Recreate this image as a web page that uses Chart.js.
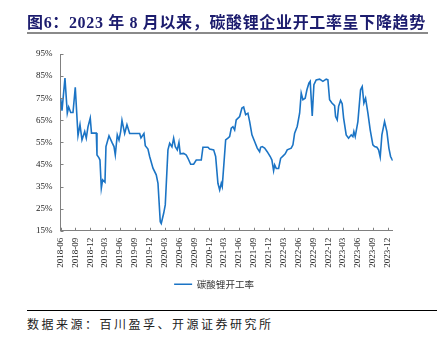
<!DOCTYPE html>
<html>
<head>
<meta charset="utf-8">
<script src="https://cdn.jsdelivr.net/npm/chart.js@4/dist/chart.umd.min.js"></script>
<style>
  html, body { margin: 0; padding: 0; background: #fff; }
  #wrap { position: relative; width: 446px; height: 340px; overflow: hidden; }
  #title { position: absolute; left: 27px; top: 9px; white-space: nowrap; letter-spacing: 0.65px;
    font: bold 16px "Liberation Serif", "Noto Sans CJK SC", serif; color: #1c1c6e; }
  #titleRule { position: absolute; left: 27px; top: 32px; width: 401px; height: 2px; background: #8a8a8a; }
  #srcRule { position: absolute; left: 27px; top: 310px; width: 410px; height: 1px; background: #000; }
  #source { position: absolute; left: 27px; top: 315px; white-space: nowrap; letter-spacing: 2.5px;
    font: 12px "Noto Sans CJK SC", sans-serif; color: #222; }
  #chartBox { position: absolute; left: 0; top: 0; width: 446px; height: 300px; }
</style>
</head>
<body>
<div id="wrap">
  <div id="chartBox"><canvas id="chartRate"></canvas></div>
  <div id="title">图6：2023 年 8 月以来，碳酸锂企业开工率呈下降趋势</div>
  <div id="titleRule"></div>
  <div id="srcRule"></div>
  <div id="source">数据来源：百川盈孚、开源证券研究所</div>
</div>
<script>
// x = months since 2018-06, y = operating rate (%)
var seriesName = "碳酸锂开工率";
var tickLabels = ["2018-06", "2018-09", "2018-12", "2019-03", "2019-06", "2019-09", "2019-12",
  "2020-03", "2020-06", "2020-09", "2020-12", "2021-03", "2021-06", "2021-09", "2021-12",
  "2022-03", "2022-06", "2022-09", "2022-12", "2023-03", "2023-06", "2023-09", "2023-12"];
var monthPos = [0.04, 0.3, 0.9, 1.37, 1.65, 2.06, 2.52, 2.98, 3.53, 3.93, 4.33, 4.88, 5.2, 5.54, 6.0,
  6.25, 7.22, 7.36, 7.76, 7.96, 8.23, 8.5, 8.97, 9.17, 9.78, 10.38, 10.79, 11.05, 11.45, 11.8,
  12.14, 12.4, 12.94, 13.4, 13.95, 15.97, 16.23, 16.83, 17.1, 17.64, 17.98, 18.65, 19.31, 19.66,
  20.12, 20.32, 20.81, 21.13, 21.67, 22.02, 22.48, 22.82, 23.15, 23.55, 23.89, 24.15, 24.84,
  25.36, 25.71, 26.25, 26.85, 27.38, 28.39, 28.73, 29.74, 30.08, 30.89, 31.29, 31.75, 32.1,
  32.42, 32.62, 33.31, 33.77, 34.11, 34.44, 34.78, 35.12, 35.44, 36.13, 36.59, 36.94, 37.34,
  37.8, 38.15, 38.61, 39.15, 39.68, 40.16, 40.36, 40.69, 41.17, 41.69, 42.3, 42.64, 42.98,
  43.19, 43.51, 43.99, 44.4, 44.86, 45.32, 45.73, 46.53, 46.88, 47.22, 47.74, 48.23, 48.55,
  48.89, 49.35, 49.7, 50.1, 50.36, 50.77, 51.11, 51.57, 52.26, 52.92, 53.59, 53.93, 54.27,
  54.74, 55.28, 55.48, 55.81, 56.09, 56.49, 56.81, 57.1, 57.62, 58.1, 58.63, 58.97, 59.17,
  59.44, 59.98, 60.52, 60.85, 61.19, 61.53, 62.0, 62.46, 63.0, 63.35, 63.81, 64.15, 64.48,
  64.82, 65.36, 65.83, 66.23, 66.57, 67.0];
var rateValues = [75, 69.3, 84.1, 68.2, 71, 68.5, 68.5, 79.9, 58.1, 63, 56.1, 59.9, 56.9, 62, 66,
  59.2, 59.2, 49.3, 48, 47, 34.2, 38, 37, 53.1, 58, 55, 53.1, 49.3, 58.4, 56,
  60, 65, 59, 63, 59, 59, 57, 59, 53.5, 52, 48.6, 43.3, 40.3, 36.5,
  19.1, 18.3, 22.9, 26.7, 51.6, 54.6, 53, 56.9, 53, 51.6, 55, 49.8, 50,
  49.3, 47.8, 45.1, 45.1, 47, 47, 52.8, 52.8, 52, 51.6, 48.6, 36.5, 33.5,
  36.5, 35, 56.1, 56.9, 57.6, 61.4, 62.1, 60.6, 65.2, 66.7, 70.5, 71, 67.5,
  68.2, 64.4, 58.4, 55.4, 52.4, 50.8, 52.8, 53.1, 52.4, 50.8, 48.6, 47, 42.2,
  44.8, 43.2, 43.2, 47.8, 48.8, 49.8, 51.6, 52.4, 53.9, 59.2, 62.2, 68.2, 77.3,
  74.3, 75, 78.8, 81.8, 82.6, 67, 81.1, 83.3, 83.6, 82.6, 83.6, 83.3, 74.3,
  72.8, 71.6, 66.7, 65.2, 71.3, 74, 72.5, 66, 58.4, 56.9, 58.4, 57.6, 59.9,
  57.6, 64.4, 78.8, 80.3, 72.8, 75, 68.2, 60.7, 53.9, 53.1, 52.8, 51.6, 48.3,
  58.4, 64.4, 59.9, 52.4, 48.6, 46.7];

var axisColor = "#808080";
var serif = "'Liberation Serif', 'Times New Roman', serif";

var innerTicks = {
  id: "innerTicks",
  afterDraw: function(chart) {
    var ctx = chart.ctx, xs = chart.scales.x, ys = chart.scales.y;
    ctx.save();
    ctx.strokeStyle = axisColor;
    ctx.lineWidth = 1;
    ctx.beginPath();
    xs.ticks.forEach(function(t) {
      var px = Math.round(xs.getPixelForValue(t.value)) + 0.5;
      ctx.moveTo(px, xs.top);
      ctx.lineTo(px, xs.top - 3);
    });
    ys.ticks.forEach(function(t) {
      var py = Math.round(ys.getPixelForValue(t.value)) + 0.5;
      ctx.moveTo(ys.right, py);
      ctx.lineTo(ys.right + 3, py);
    });
    ctx.stroke();
    ctx.restore();
  }
};

var chartRate = new Chart(document.getElementById("chartRate"), {
  type: "line",
  data: {
    datasets: [{
      label: seriesName,
      data: monthPos.map(function(m, i) { return { x: m, y: rateValues[i] }; }),
      borderColor: "#1b74c5",
      backgroundColor: "#1b74c5",
      borderWidth: 1.6,
      pointRadius: 0,
      tension: 0
    }]
  },
  plugins: [innerTicks],
  options: {
    responsive: true,
    maintainAspectRatio: false,
    animation: false,
    layout: { padding: { left: 35.3, right: 53.3, top: 54, bottom: 1 } },
    plugins: {
      tooltip: { enabled: false },
      legend: {
        position: "bottom",
        labels: {
          usePointStyle: true,
          pointStyle: "line",
          pointStyleWidth: 18,
          padding: 10,
          color: "#333",
          font: { size: 9.5, family: "'Noto Sans CJK SC', sans-serif" }
        }
      }
    },
    scales: {
      x: {
        type: "linear",
        min: 0,
        max: 67,
        afterBuildTicks: function(scale) {
          scale.ticks = tickLabels.map(function(l, i) { return { value: i * 3 }; });
        },
        afterFit: function(scale) { scale.height = 38.75; },
        grid: { display: false, drawTicks: false },
        border: { display: true, color: axisColor },
        ticks: {
          autoSkip: false,
          minRotation: 90,
          maxRotation: 90,
          padding: 7,
          color: "#222",
          font: { size: 9, family: serif },
          callback: function(v) { return tickLabels[Math.round(v / 3)]; }
        }
      },
      y: {
        min: 15,
        max: 95,
        afterFit: function(scale) { scale.width = 25.2; },
        grid: { display: false, drawTicks: false },
        border: { display: true, color: axisColor },
        ticks: {
          stepSize: 10,
          padding: 8,
          color: "#222",
          font: { size: 9, family: serif },
          callback: function(v) { return v + "%"; }
        }
      }
    }
  }
});
</script>
</body>
</html>
